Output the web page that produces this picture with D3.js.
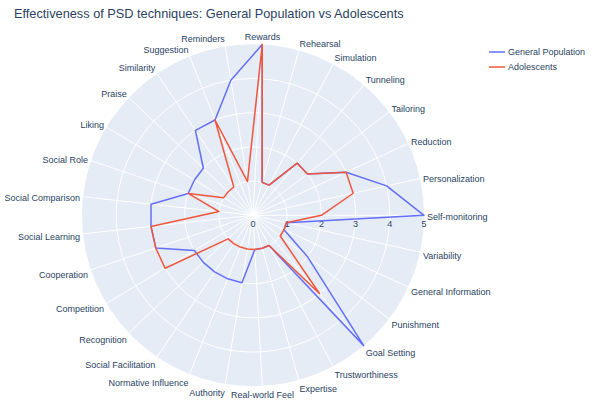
<!DOCTYPE html>
<html>
<head>
<meta charset="utf-8">
<script src="https://cdn.jsdelivr.net/npm/d3@7"></script>
<style>
  body { margin: 0; background: #fff; }
  text { font-family: "Liberation Sans", Arial, sans-serif; fill: #2a3f5f; }
</style>
</head>
<body>
<script>
// categories in plotting order (first one sits at 3 o'clock, then counterclockwise)
const techniques = ["Self-monitoring", "Personalization", "Reduction", "Tailoring", "Tunneling",
    "Simulation", "Rehearsal", "Rewards", "Reminders", "Suggestion", "Similarity", "Praise",
    "Liking", "Social Role", "Social Comparison", "Social Learning", "Cooperation", "Competition",
    "Recognition", "Social Facilitation", "Normative Influence", "Authority", "Real-world Feel",
    "Expertise", "Trustworthiness", "Goal Setting", "Punishment", "General Information", "Variability"];

const generalPopulation = [5, 4, 3, 2, 2, 1, 1, 5, 4, 3, 3, 2, 2, 2, 3, 3, 3, 2, 2, 2, 2, 2, 1, 1, 1, 5, 2, 1, 1];
const adolescents       = [2, 3, 3, 2, 2, 1, 1, 5, 1, 3, 1, 1, 1, 2, 1, 3, 3, 3, 1, 1, 1, 1, 1, 1, 1, 3, 1, 1, 1];

const radialTicks = [0, 1, 2, 3, 4, 5];

const seriesNames = ["General Population", "Adolescents"];
const seriesColors = ["#636efa", "#EF553B"];

const width = 597, height = 402;
const cx = 253, cy = 215.3, R = 171;
const fs = 9;

const svg = d3.select("body").append("svg")
    .attr("width", width)
    .attr("height", height);

// radius + angle scales
const rScale = d3.scaleLinear().domain([0, 5]).range([0, R]);
const n = techniques.length;
const thetaScale = d3.scaleLinear().domain([0, n]).range([0, 2 * Math.PI]); // math angle, ccw from east

const polar = svg.append("g").attr("transform", "translate(" + cx + "," + cy + ")");

// background disk
polar.append("circle")
    .attr("r", R)
    .style("fill", "#E5ECF6");

// radial grid circles
polar.selectAll(".rgrid")
    .data(radialTicks.filter(d => d > 0 && d < 5))
    .enter()
    .append("circle")
    .attr("r", d => rScale(d))
    .style("fill", "none")
    .style("stroke", "#fff")
    .style("stroke-width", 1);

// angular spokes
polar.selectAll(".spoke")
    .data(techniques)
    .enter()
    .append("line")
    .attr("x1", 0).attr("y1", 0)
    .attr("x2", (d, i) => R * Math.cos(thetaScale(i)))
    .attr("y2", (d, i) => -R * Math.sin(thetaScale(i)))
    .style("stroke", "#fff")
    .style("stroke-width", 1);

// radial tick labels along the 0 degree axis
polar.selectAll(".rtick")
    .data(radialTicks)
    .enter()
    .append("text")
    .attr("x", d => rScale(d))
    .attr("y", 12)
    .attr("text-anchor", "middle")
    .style("font-size", fs + "px")
    .text(d => d);

// angular labels
polar.selectAll(".alabel")
    .data(techniques)
    .enter()
    .append("text")
    .attr("x", (d, i) => (R + 3) * Math.cos(thetaScale(i)))
    .attr("y", (d, i) => {
        const s = Math.sin(thetaScale(i));
        // vertical nudge so labels sit like plotly's
        return -(R + 3) * s + 5.15 - 5.15 * s - 1.35 * s * s;
    })
    .attr("text-anchor", (d, i) => {
        const c = Math.cos(thetaScale(i));
        return Math.abs(c) < 0.1 ? "middle" : (c > 0 ? "start" : "end");
    })
    .style("font-size", fs + "px")
    .text(d => d);

// traces
const radar = d3.lineRadial()
    .angle((d, i) => Math.PI / 2 - thetaScale(i))
    .radius(d => rScale(d))
    .curve(d3.curveLinearClosed);

[generalPopulation, adolescents].forEach((values, k) => {
    polar.append("path")
        .attr("d", radar(values))
        .style("fill", "none")
        .style("stroke", seriesColors[k])
        .style("stroke-width", 1.5)
        .style("stroke-linejoin", "round");
});

// title
svg.append("text")
    .attr("x", 14)
    .attr("y", 18)
    .style("font-size", "12.75px")
    .text("Effectiveness of PSD techniques: General Population vs Adolescents");

// legend
const legend = svg.append("g");
seriesNames.forEach((name, k) => {
    const y = 52 + k * 15;
    legend.append("line")
        .attr("x1", 489).attr("x2", 505)
        .attr("y1", y).attr("y2", y)
        .style("stroke", seriesColors[k])
        .style("stroke-width", 1.5);
    legend.append("text")
        .attr("x", 508)
        .attr("y", y + fs * 0.35)
        .style("font-size", fs + "px")
        .text(name);
});
</script>
</body>
</html>
